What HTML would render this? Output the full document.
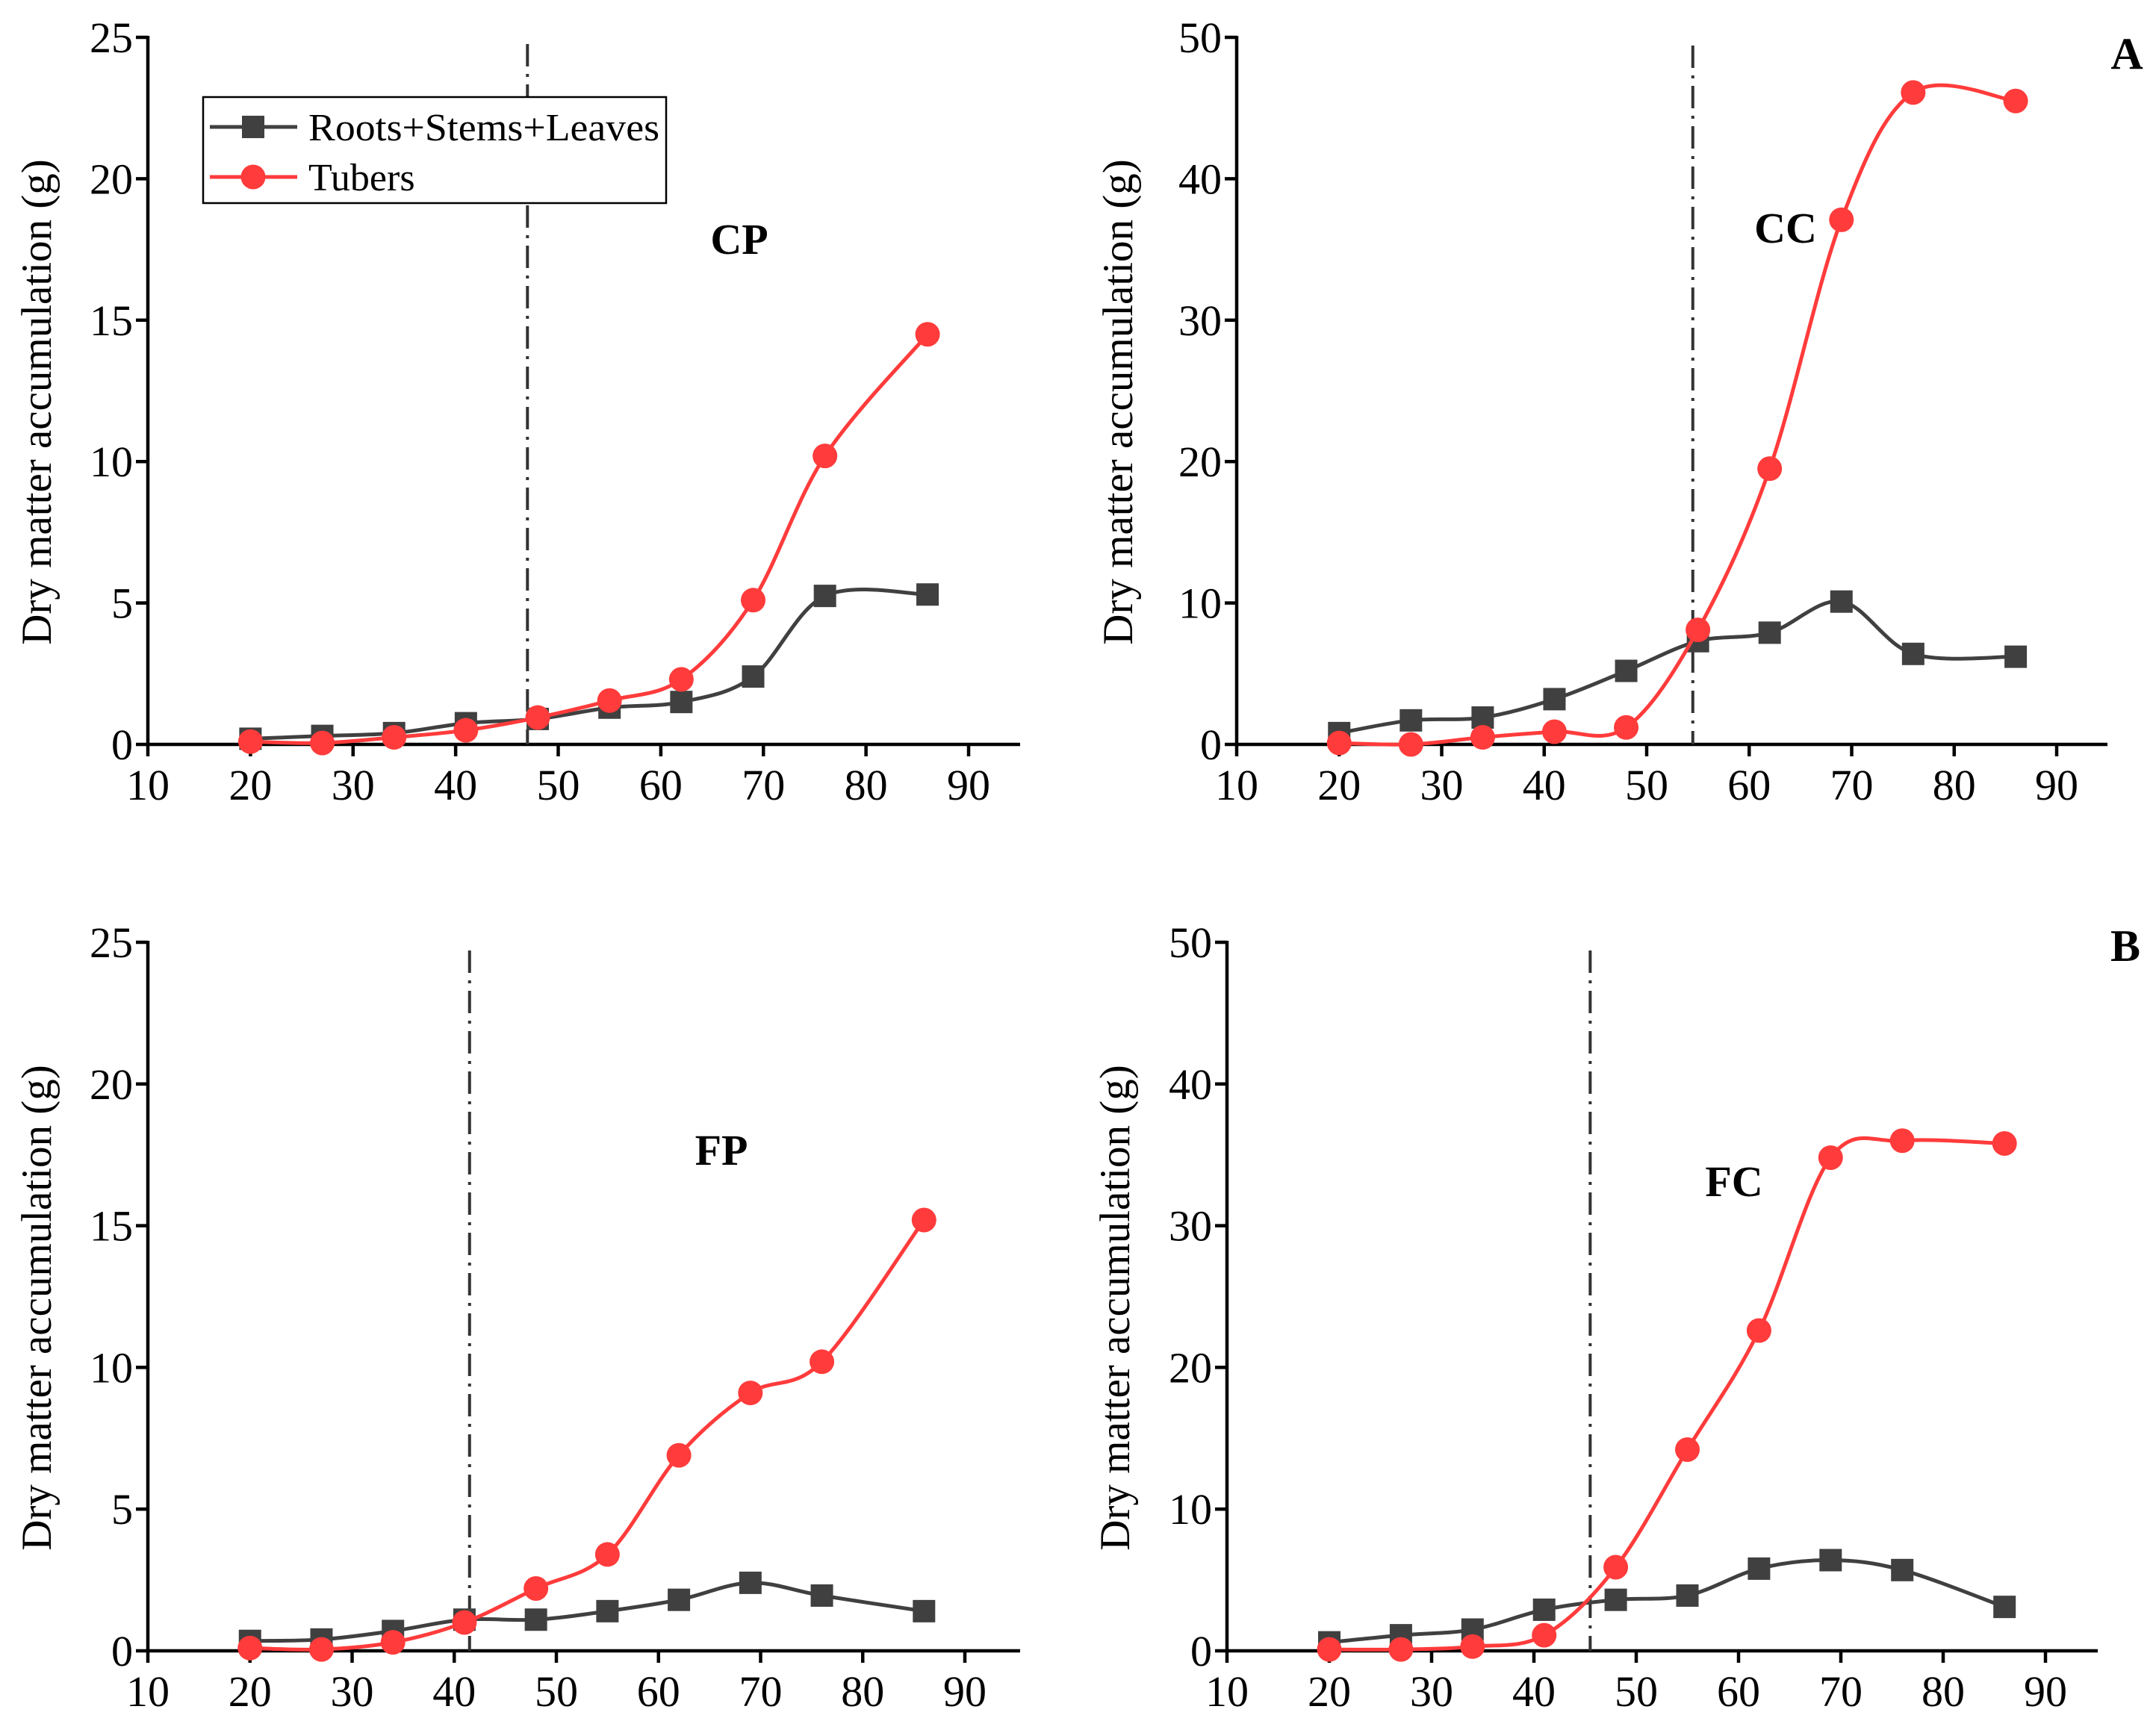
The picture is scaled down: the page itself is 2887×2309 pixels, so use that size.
<!DOCTYPE html>
<html><head><meta charset="utf-8"><style>
html,body{margin:0;padding:0;background:#fff}
svg{display:block}
text{font-family:"Liberation Serif",serif;fill:#000}
</style></head><body>
<svg id="chart" width="2887" height="2309" viewBox="0 0 2887 2309" xmlns="http://www.w3.org/2000/svg"></svg>
<script>
const days = [20,27,34,41,48,55,62,69,76,86];
const xTicks = [10,20,30,40,50,60,70,80,90];
const cpShoot = [0.2,0.3,0.4,0.75,0.9,1.3,1.5,2.4,5.25,5.3];
const cpTuber = [0.1,0.05,0.25,0.5,0.95,1.55,2.3,5.1,10.2,14.5];
const ccShoot = [0.8,1.7,1.9,3.2,5.2,7.3,7.9,10.1,6.4,6.2];
const ccTuber = [0.1,0,0.5,0.9,1.2,8.1,19.5,37.1,46.1,45.5];
const fpShoot = [0.35,0.4,0.7,1.1,1.1,1.4,1.8,2.4,1.95,1.4];
const fpTuber = [0.1,0.05,0.3,1.0,2.2,3.4,6.9,9.1,10.2,15.2];
const fcShoot = [0.6,1.1,1.5,2.9,3.6,3.9,5.8,6.4,5.7,3.1];
const fcTuber = [0.1,0.1,0.3,1.1,5.9,14.2,22.6,34.8,36.0,35.8];
const yTicksSmall = [0,5,10,15,20,25];
const yTicksLarge = [0,10,20,30,40,50];
const vlines = [47,54.5,41.5,45.5];
const panelNames = ["CP","CC","FP","FC"];

const svg = document.getElementById('chart');
const NS = 'http://www.w3.org/2000/svg';
function mk(tag, attrs, parent){
  const e = document.createElementNS(NS, tag);
  for (const k in attrs) e.setAttribute(k, attrs[k]);
  (parent||svg).appendChild(e);
  return e;
}
const GRAY = '#404040', RED = '#ff3b3b';

const panels = [
  {x10:198,x90:1297,right:1366,y0:997,yTop:50,yMax:25,ticks:yTicksSmall,shoot:cpShoot,tuber:cpTuber,v:vlines[0],vTop:59,name:panelNames[0],lx:990,ly:340,titleX:48,letter:null,legend:true},
  {x10:1656,x90:2754,right:2822,y0:997,yTop:50,yMax:50,ticks:yTicksLarge,shoot:ccShoot,tuber:ccTuber,v:vlines[1],vTop:61,name:panelNames[1],lx:2391,ly:325,titleX:1496,letter:'A',lX:2848,lY:92},
  {x10:198,x90:1292,right:1366,y0:2211,yTop:1262,yMax:25,ticks:yTicksSmall,shoot:fpShoot,tuber:fpTuber,v:vlines[2],vTop:1273,name:panelNames[2],lx:966,ly:1560,titleX:48,letter:null},
  {x10:1643,x90:2739,right:2809,y0:2211,yTop:1262,yMax:50,ticks:yTicksLarge,shoot:fcShoot,tuber:fcTuber,v:vlines[3],vTop:1273,name:panelNames[3],lx:2322,ly:1602,titleX:1492,letter:'B',lX:2846,lY:1287}
];

function spline(pts){
  let d = `M${pts[0][0]},${pts[0][1]}`;
  for (let i=0;i<pts.length-1;i++){
    const p0 = pts[Math.max(0,i-1)], p1 = pts[i], p2 = pts[i+1], p3 = pts[Math.min(pts.length-1,i+2)];
    const c1x = p1[0]+(p2[0]-p0[0])/6, c1y = p1[1]+(p2[1]-p0[1])/6;
    const c2x = p2[0]-(p3[0]-p1[0])/6, c2y = p2[1]-(p3[1]-p1[1])/6;
    d += ` C${c1x},${c1y} ${c2x},${c2y} ${p2[0]},${p2[1]}`;
  }
  return d;
}

panels.forEach((p, pi) => {
  const g = mk('g', {});
  
  
  const X = v => p.x10 + (v-10)/80*(p.x90-p.x10);
  const Y = v => p.y0 - v/p.yMax*(p.y0-p.yTop);
  const ya = mk('line', {x1:p.x10,y1:p.y0+2,x2:p.x10,y2:p.yTop-2,stroke:'#000','stroke-width':4.5}, g);
   
  const xa = mk('line', {x1:p.x10-2,y1:p.y0,x2:p.right,y2:p.y0,stroke:'#000','stroke-width':4.5}, g);
   
  p.ticks.forEach(t => {
    mk('line',{x1:p.x10-16,y1:Y(t),x2:p.x10,y2:Y(t),stroke:'#000','stroke-width':4.5},g);
    const tl = mk('text',{x:p.x10-20,y:Y(t)+20,'text-anchor':'end','font-size':58},g);
    tl.textContent = t;
     
  });
  xTicks.forEach(t => {
    mk('line',{x1:X(t),y1:p.y0,x2:X(t),y2:p.y0+16,stroke:'#000','stroke-width':4.5},g);
    const tl = mk('text',{x:X(t),y:p.y0+74,'text-anchor':'middle','font-size':58},g);
    tl.textContent = t;
     
  });
  const cy = (p.y0+p.yTop)/2 + 15;
  const yt = mk('text',{x:p.titleX+20,y:cy,'text-anchor':'middle','font-size':57,transform:`rotate(-90 ${p.titleX+20} ${cy})`},g);
  yt.textContent = 'Dry matter accumulation (g)';
   
  const vl = mk('line',{x1:X(p.v),y1:p.vTop,x2:X(p.v),y2:p.y0,stroke:'#333','stroke-width':4,'stroke-dasharray':'30 10 4 10'},g);
   
  [[p.shoot,GRAY,'square','roots-stems-leaves'],[p.tuber,RED,'circle','tubers']].forEach(([vals,col,shape,nm]) => {
    const pts = days.map((d,i)=>[X(d),Y(vals[i])]);
    const path = mk('path',{d:spline(pts),fill:'none',stroke:col,'stroke-width':5},g);
    
    
    pts.forEach(pt => {
      let m;
      if (shape==='square') m = mk('rect',{x:pt[0]-15,y:pt[1]-15,width:30,height:30,fill:col},g);
      else m = mk('circle',{cx:pt[0],cy:pt[1],r:16.5,fill:col},g);
      
      
    });
  });
  const lbl = mk('text',{x:p.lx,y:p.ly,'text-anchor':'middle','font-size':58,'font-weight':'bold'},g);
  lbl.textContent = p.name;
   
  if (p.letter){
    const lt = mk('text',{x:p.lX,y:p.lY,'text-anchor':'middle','font-size':60,'font-weight':'bold'},g);
    lt.textContent = p.letter;
     
  }
  if (p.legend){
    const lg = mk('g',{},g);
     
    mk('rect',{x:272,y:130,width:620,height:142,fill:'#fff',stroke:'#000','stroke-width':2.5},lg);
    mk('line',{x1:281,y1:170,x2:398,y2:170,stroke:GRAY,'stroke-width':5},lg);
    mk('rect',{x:324,y:155,width:30,height:30,fill:GRAY},lg);
    const t1 = mk('text',{x:413,y:188,'font-size':52,textLength:470,lengthAdjust:'spacingAndGlyphs'},lg); t1.textContent='Roots+Stems+Leaves';
     
    mk('line',{x1:281,y1:237,x2:398,y2:237,stroke:RED,'stroke-width':5},lg);
    mk('circle',{cx:339,cy:237,r:16.5,fill:RED},lg);
    const t2 = mk('text',{x:413,y:255,'font-size':52},lg); t2.textContent='Tubers';
     
  }
});
</script>
</body></html>
